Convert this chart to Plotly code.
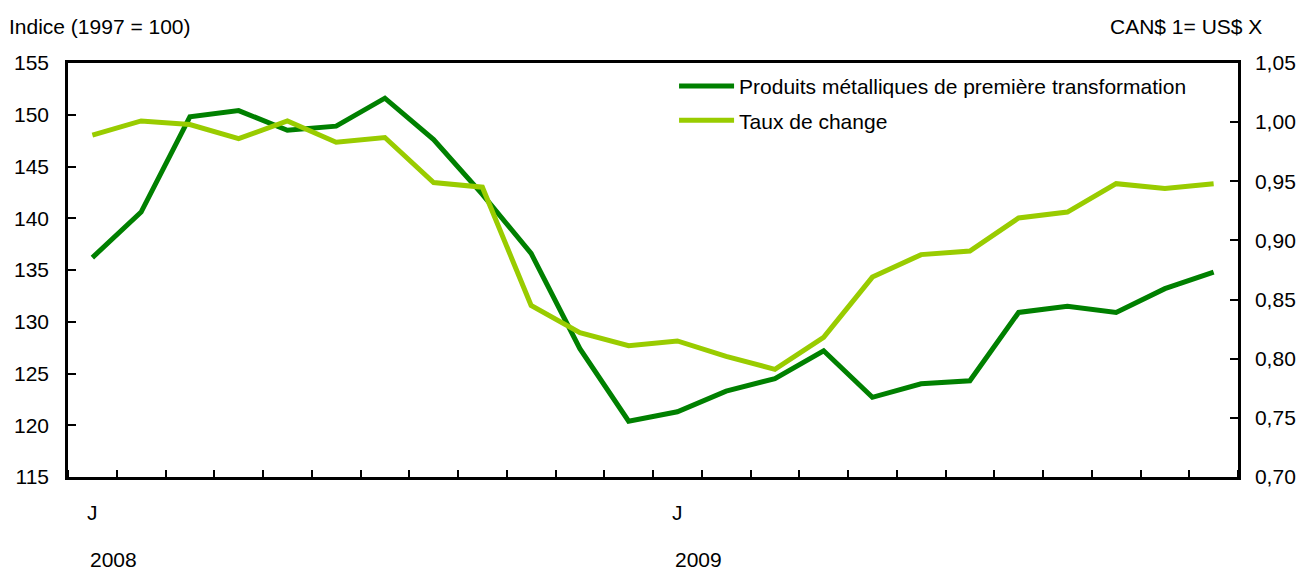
import plotly.graph_objects as go

months = list(range(24))
month_labels = ["J", "J"]
month_label_pos = [0, 12]
year_labels = ["2008", "2009"]

metal = [136.2, 140.6, 149.8, 150.4, 148.5, 148.9, 151.6, 147.6, 142.3, 136.6,
         127.4, 120.4, 121.3, 123.3, 124.5, 127.2, 122.7, 124.0, 124.3, 130.9,
         131.5, 130.9, 133.2, 134.8]
fx = [0.989, 1.001, 0.998, 0.986, 1.001, 0.983, 0.987, 0.949, 0.945, 0.845,
      0.822, 0.811, 0.815, 0.802, 0.791, 0.818, 0.869, 0.888, 0.891, 0.919,
      0.924, 0.948, 0.944, 0.948]

name_metal = "Produits métalliques de première transformation"
name_fx = "Taux de change"

FONT = "Liberation Sans, Arial, sans-serif"
fs = 21

fig = go.Figure()
fig.add_trace(go.Scatter(x=months, y=metal, mode="lines", name=name_metal,
                         legendgroup="a",
                         line=dict(color="#008000", width=5), yaxis="y"))
fig.add_trace(go.Scatter(x=months, y=fx, mode="lines", name=name_fx,
                         legendgroup="b",
                         line=dict(color="#99CC00", width=5), yaxis="y2"))

boundaries = [k - 0.5 for k in range(25)]

fig.update_layout(
    width=1302, height=570,
    margin=dict(l=68, r=64, t=63, b=93, autoexpand=False),
    paper_bgcolor="white", plot_bgcolor="white",
    font=dict(family=FONT, size=fs, color="black"),
    showlegend=True,
    legend=dict(x=0.518, y=0.993, xanchor="left", yanchor="top",
                bgcolor="rgba(0,0,0,0)", font=dict(size=fs),
                tracegroupgap=4, itemwidth=55),
    xaxis=dict(range=[-0.5, 23.5], showline=True, linecolor="black", linewidth=2.5,
               mirror=True, showgrid=False, zeroline=False, automargin=False,
               tickmode="array", tickvals=month_label_pos, ticktext=[""] * 2,
               ticks="",
               minor=dict(tickmode="array", tickvals=boundaries, ticks="inside",
                          ticklen=7, tickwidth=2, tickcolor="black", showgrid=False)),
    yaxis=dict(range=[115, 155], tickvals=list(range(115, 156, 5)),
               showline=True, linecolor="black", linewidth=2.5, showgrid=False,
               zeroline=False, ticks="inside", ticklen=8, tickwidth=2, automargin=False,
               tickcolor="black", ticklabelstandoff=12),
    yaxis2=dict(range=[0.70, 1.05], overlaying="y", side="right",
                tickvals=[0.70, 0.75, 0.80, 0.85, 0.90, 0.95, 1.00, 1.05],
                ticktext=["0,70", "0,75", "0,80", "0,85", "0,90", "0,95", "1,00", "1,05"],
                showline=True, linecolor="black", linewidth=2.5, showgrid=False,
                zeroline=False, ticks="inside", ticklen=8, tickwidth=2, automargin=False,
                tickcolor="black", ticklabelstandoff=10),
)

for pos, m, yr in zip(month_label_pos, month_labels, year_labels):
    fig.add_annotation(x=pos, y=0, xref="x", yref="paper", text=m,
                       showarrow=False, xanchor="center", yanchor="middle",
                       font=dict(size=fs), yshift=-35)
    fig.add_annotation(x=pos, y=0, xref="x", yref="paper", text=yr,
                       showarrow=False, xanchor="left", yanchor="middle",
                       font=dict(size=fs), yshift=-82, xshift=-4)

fig.add_annotation(x=0, y=1, xref="paper", yref="paper", text="Indice (1997 = 100)",
                   showarrow=False, xanchor="left", yanchor="middle",
                   font=dict(size=fs), xshift=-61, yshift=37)
fig.add_annotation(x=1, y=1, xref="paper", yref="paper", text="CAN$ 1= US$ X",
                   showarrow=False, xanchor="right", yanchor="middle",
                   font=dict(size=fs), xshift=26, yshift=37)

fig.write_html("out.html",
               config={"displayModeBar": False},
               post_script="document.body.style.margin='0';document.body.style.overflow='hidden';")
